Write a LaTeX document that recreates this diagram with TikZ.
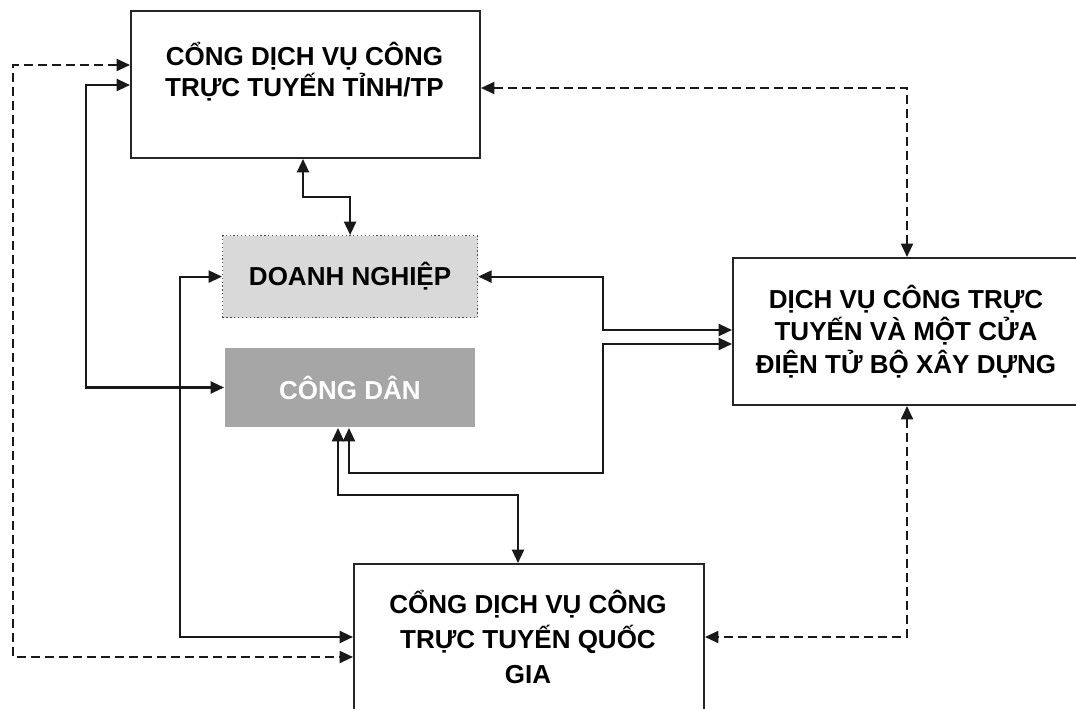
\documentclass[tikz,border=0pt]{standalone}
\usepackage{fontspec}
\setmainfont{Liberation Sans}
\usetikzlibrary{arrows.meta,calc}
\definecolor{dnfill}{HTML}{D9D9D9}
\definecolor{cdfill}{HTML}{A6A6A6}
\begin{document}
\begin{tikzpicture}[x=0.75pt,y=-0.75pt,
  box/.style={draw=black!85, line width=1.5pt, fill=white, inner sep=0pt, anchor=north west},
  txt/.style={font=\fontsize{19.5}{#1}\selectfont\bfseries, align=center, inner sep=0pt},
  conn/.style={line width=1.6pt, draw=black!90, {Triangle[length=10pt,width=9pt]}-{Triangle[length=10pt,width=9pt]}},
  dconn/.style={conn, line width=1.4pt, dash pattern=on 6.5pt off 4pt}
]
\useasboundingbox (0,0) rectangle (1076,709);
\fill[white] (0,0) rectangle (1076,709);
\clip (0,0) rectangle (1076,709);

% boxes
\node[box, minimum width=261.75pt, minimum height=110.25pt] (tinh) at (130,10) {};
\node[txt=23.25pt] (tinhtxt) at (304.5,72) {CỔNG DỊCH VỤ CÔNG\\TRỰC TUYẾN TỈNH/TP};

\node[box, draw=gray!60!black, line width=0.9pt, dotted, fill=dnfill,
      minimum width=191.25pt, minimum height=61.5pt, txt=24pt, anchor=north west] (dn) at (222,235) {DOANH NGHIỆP};

\node[box, draw=none, fill=cdfill, text=white,
      minimum width=187.5pt, minimum height=59.25pt, txt=24pt, anchor=north west] (cd) at (224,347) {CÔNG DÂN};

\node[box, minimum width=259.5pt, minimum height=110.25pt, txt=24.4pt, anchor=north west] (bdv) at (732,257)
  {DỊCH VỤ CÔNG TRỰC\\TUYẾN VÀ MỘT CỬA\\ĐIỆN TỬ BỘ XÂY DỰNG};

\node[box, minimum width=262.5pt, minimum height=147.75pt] (qg) at (353,563) {};
\node[txt=26.25pt] (qgtxt) at (528,637) {CỔNG DỊCH VỤ CÔNG\\TRỰC TUYẾN QUỐC\\GIA};

% helper coordinates
\coordinate (y65) at (0,65);
\coordinate (y85) at (0,85);
\coordinate (y88) at (0,88);
\coordinate (y330) at (0,330);
\coordinate (y344) at (0,344);
\coordinate (y637) at (0,637);
\coordinate (y657) at (0,657);
\coordinate (xL) at (13,0);
\coordinate (xM) at (86,0);
\coordinate (xN) at (180,0);
\coordinate (xR) at (603,0);
\coordinate (x338) at (338,0);
\coordinate (x349) at (349,0);
\coordinate (x907) at (907,0);
\coordinate (k1) at (303,197);
\coordinate (k2) at (603,473);
\coordinate (k3) at (518,495);

% dashed connectors
\draw[dconn] (tinh.east |- y88) -| (bdv.north -| x907);
\draw[dconn] (bdv.south -| x907) |- (qg.east |- y637);
\draw[dconn] (tinh.west |- y65) -| (xL |- y657) -- (qg.west |- y657);

% solid connectors
\draw[conn] (tinh.west |- y85) -| (xM |- cd.west) -- (cd.west);
\draw[conn] (tinh.south -| k1) -- (k1) -| (dn.north);
\draw[conn] (dn.west) -| (xN |- y637) -- (qg.west |- y637);
\draw[conn] (dn.east) -| (xR |- y330) -- (bdv.west |- y330);
\draw[conn] (cd.south -| x349) |- (k2) |- (bdv.west |- y344);
\draw[conn] (cd.south -| x338) |- (k3) -- (qg.north -| k3);
\end{tikzpicture}
\end{document}
